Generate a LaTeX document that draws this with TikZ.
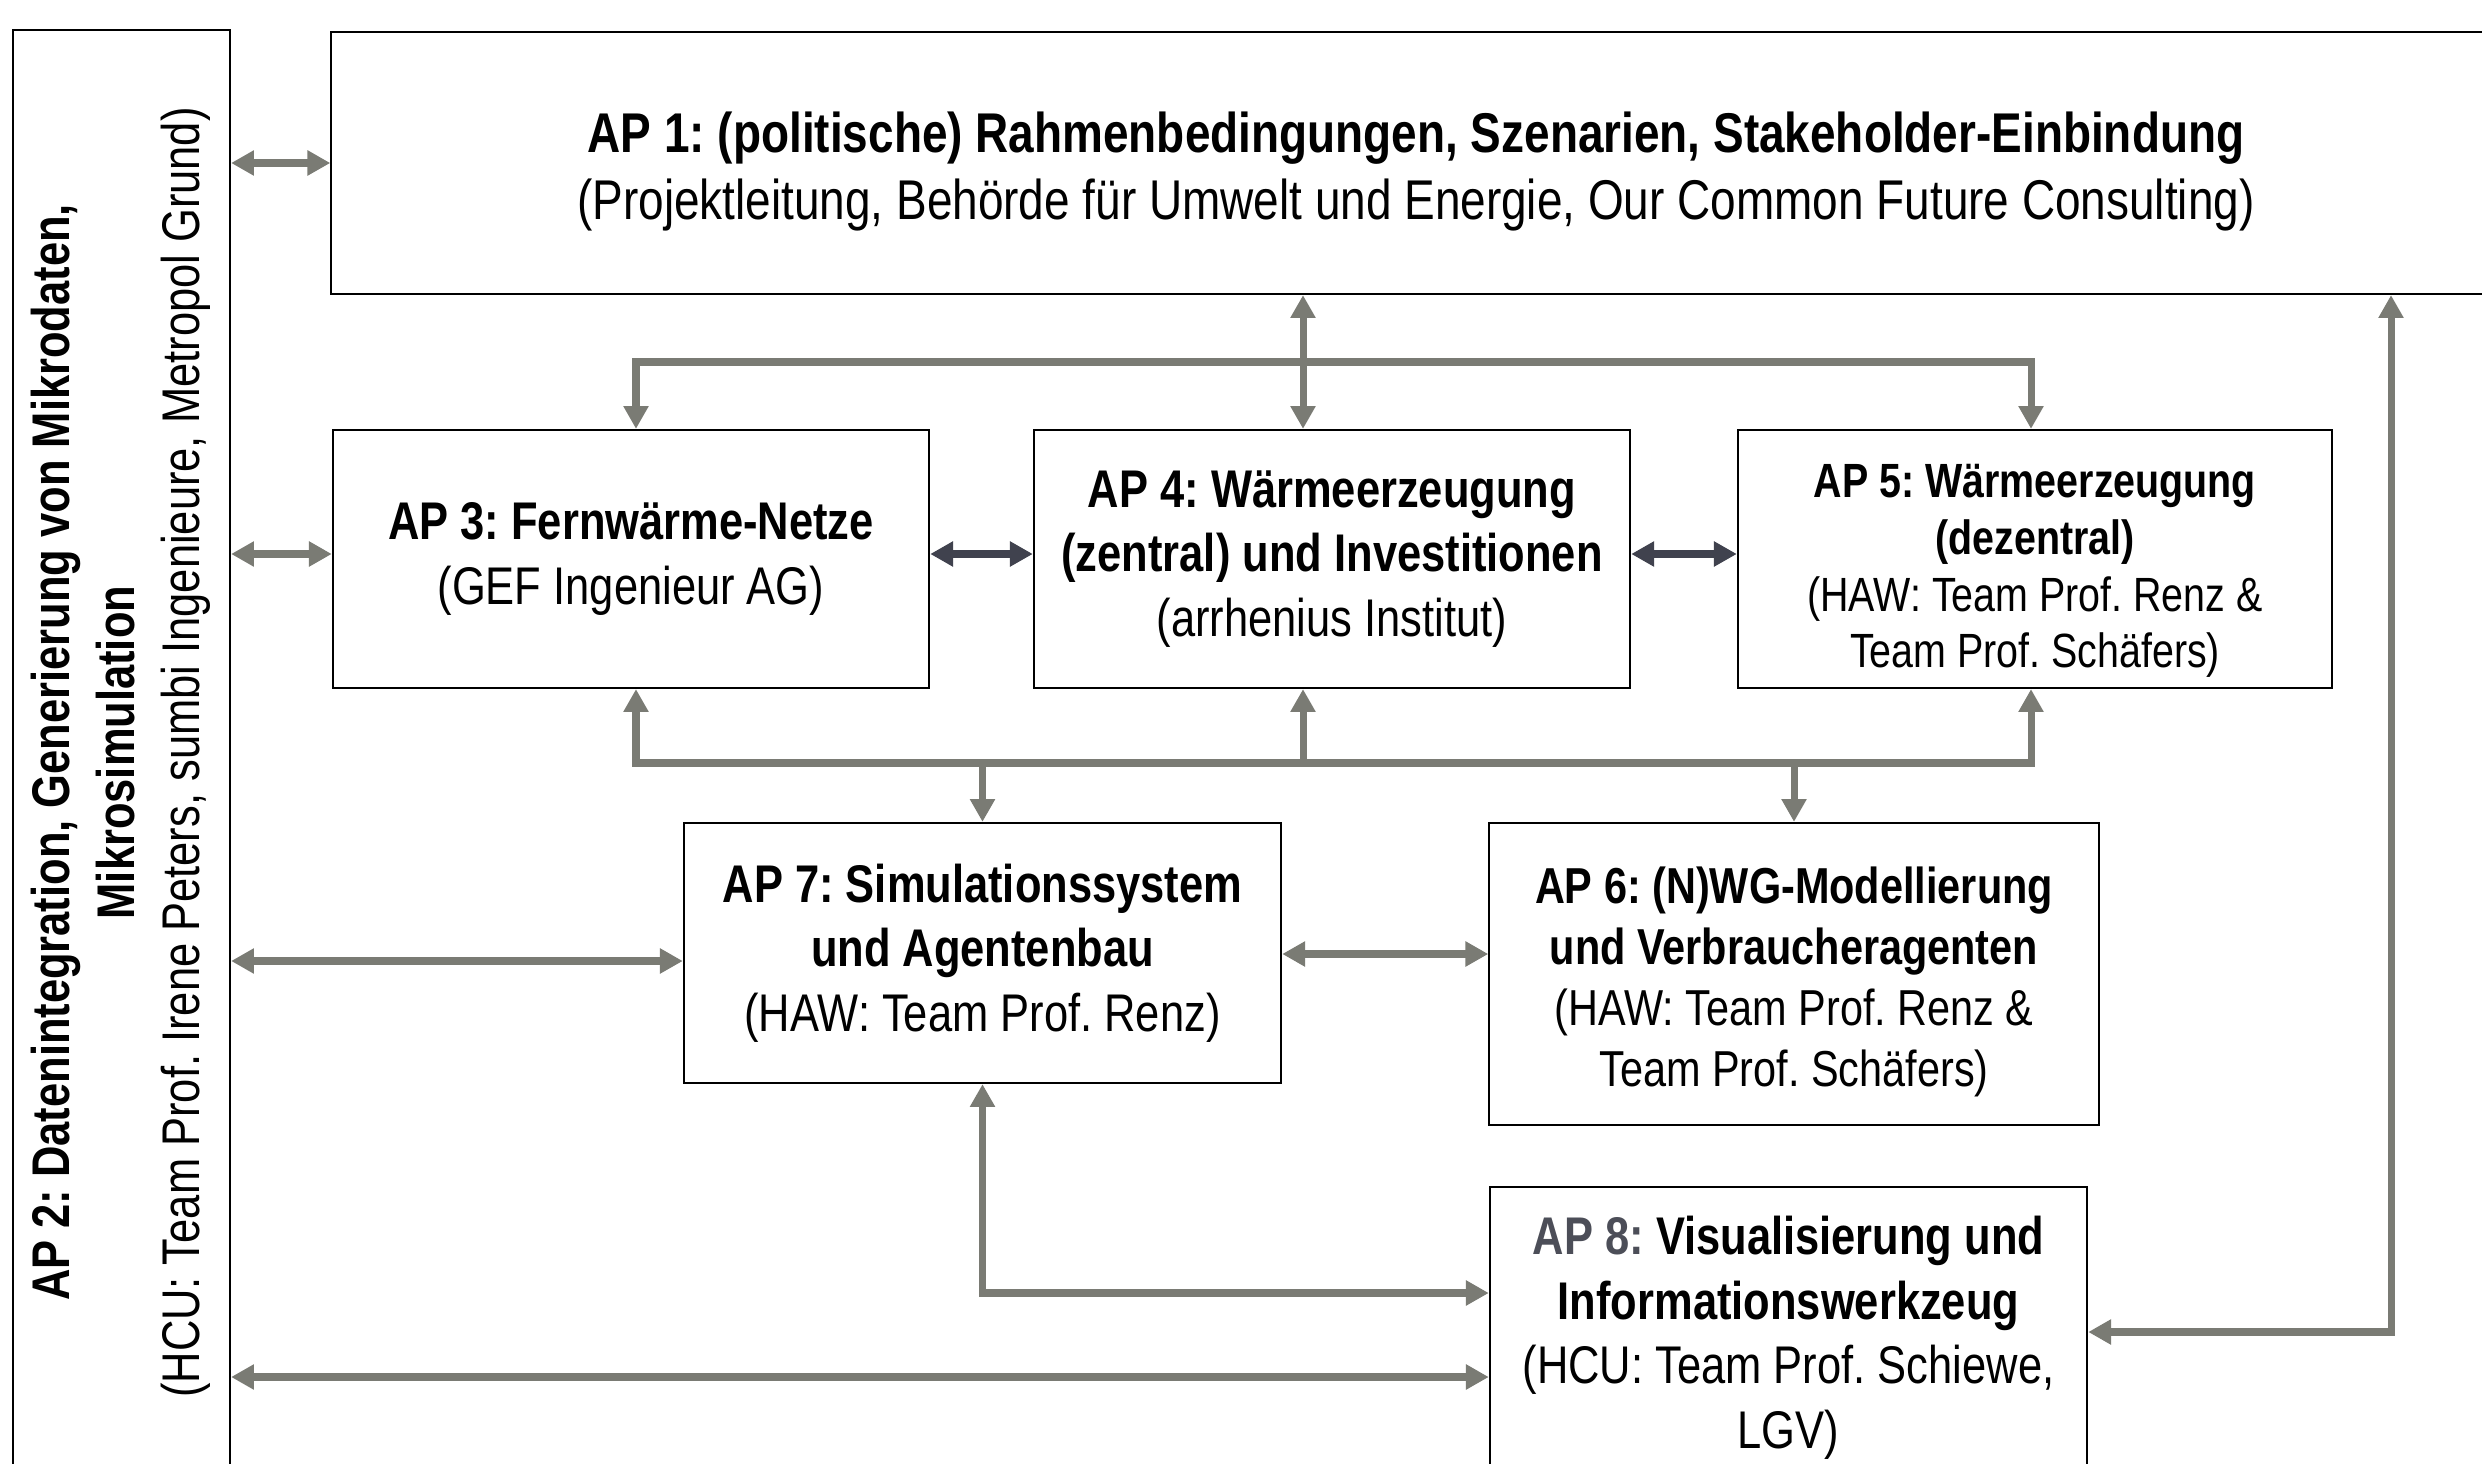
\documentclass[tikz,border=0pt]{standalone}
\usepackage{graphicx}
\usepackage{fontspec}
\setmainfont{Liberation Sans}[FakeStretch=0.82]
\usetikzlibrary{arrows.meta,calc}
\definecolor{gline}{RGB}{122,123,116}
\definecolor{dline}{RGB}{64,66,78}
\definecolor{apgray}{RGB}{76,78,88}
\begin{document}
\frenchspacing
\begin{tikzpicture}[x=0.01cm,y=-0.01cm,
  >={Triangle[length=6.5pt,width=6.8pt]},
  apbox/.style={draw=black,line width=0.6pt,fill=white,align=center,inner sep=0pt},
  fbig/.style={font=\fontsize{15.93}{19.1}\selectfont},
  fmid/.style={font=\fontsize{15.08}{18.4}\selectfont},
  fsix/.style={font=\fontsize{14.37}{17.35}\selectfont},
  ffive/.style={font=\fontsize{13.66}{16.2}\selectfont},
  garrow/.style={draw=gline,line width=2pt},
  darrow/.style={draw=dline,line width=2.3pt}]
\useasboundingbox (0,0) rectangle (2482,1464);
\clip (0,0) rectangle (2482,1464);
\fill[white] (0,0) rectangle (2482,1464);

% boxes
\node[apbox,fbig,minimum width=21.68cm,minimum height=2.62cm] (ap1) at (1416,163)
  {\rule{0pt}{16.2pt}{\bfseries AP 1: (politische) Rahmenbedingungen, Szenarien, Stakeholder-Einbindung}\\
   (Projektleitung, Behörde für Umwelt und Energie, Our Common Future Consulting)};
\node[apbox,minimum width=2.17cm,minimum height=14.45cm] (ap2) at (121.5,752.5)
  {\rotatebox{90}{\fontsize{15.08}{18.5}\selectfont\begin{tabular}{@{}c@{}}
   \bfseries AP 2: Datenintegration, Generierung von Mikrodaten,\\
   \bfseries Mikrosimulation\\
   (HCU: Team Prof. Irene Peters, sumbi Ingenieure, Metropol Grund)
   \end{tabular}}};
\node[apbox,fmid,minimum width=5.96cm,minimum height=2.58cm] (ap3) at (631,559)
  {{\bfseries AP 3: Fernwärme-Netze}\\(GEF Ingenieur AG)};
\node[apbox,fmid,minimum width=5.96cm,minimum height=2.58cm] (ap4) at (1332,559)
  {{\bfseries AP 4: Wärmeerzeugung}\\{\bfseries (zentral) und Investitionen}\\(arrhenius Institut)};
\node[apbox,ffive,minimum width=5.94cm,minimum height=2.58cm] (ap5) at (2035,559)
  {\rule{0pt}{16.2pt}{\bfseries AP 5: Wärmeerzeugung}\\{\bfseries (dezentral)}\\(HAW: Team Prof. Renz \&\\Team Prof. Schäfers)};
\node[apbox,fmid,minimum width=5.97cm,minimum height=2.60cm] (ap7) at (982.5,953)
  {{\bfseries AP 7: Simulationssystem}\\{\bfseries und Agentenbau}\\(HAW: Team Prof. Renz)};
\node[apbox,fsix,minimum width=6.09cm,minimum height=3.02cm] (ap6) at (1794,974)
  {\rule{0pt}{15.1pt}{\bfseries AP 6: (N)WG-Modellierung}\\{\bfseries und Verbraucheragenten}\\(HAW: Team Prof. Renz \&\\Team Prof. Schäfers)};
\node[apbox,fmid,minimum width=5.97cm,minimum height=2.93cm] (ap8) at (1788.5,1333.5)
  {\rule{0pt}{13.3pt}{\bfseries{\color{apgray}AP 8:} Visualisierung und}\\{\bfseries Informationswerkzeug}\\(HCU: Team Prof. Schiewe,\\LGV)};

% helper coordinates
\coordinate (x4) at (1303,0);
\coordinate (y3) at (0,554);
\coordinate (tl) at (636,362);
\coordinate (tr) at (2031,362);
\coordinate (bl) at (636,763);
\coordinate (br) at (2031,763);
\coordinate (y7) at (0,961);
\coordinate (y76) at (0,954);
\coordinate (y78) at (0,1293);
\coordinate (y28) at (0,1377);
\coordinate (rr) at (2391,1332);

% connectors
\draw[garrow,<->] (ap2.east |- ap1.west) -- (ap1.west);
\draw[garrow,<->] (ap2.east |- y3) -- (ap3.west |- y3);
\draw[darrow,<->] (ap3.east |- y3) -- (ap4.west |- y3);
\draw[darrow,<->] (ap4.east |- y3) -- (ap5.west |- y3);
\draw[garrow,<->] (ap1.south -| x4) -- (ap4.north -| x4);
\draw[garrow,<->] (ap3.north -| tl) -- (tl) -- (tr) -- (ap5.north -| tr);
\draw[garrow,<->] (ap3.south -| bl) -- (bl) -- (br) -- (ap5.south -| br);
\draw[garrow,->] (bl -| x4) -- (ap4.south -| x4);
\draw[garrow,->] (bl -| ap7.north) -- (ap7.north);
\draw[garrow,->] (bl -| ap6.north) -- (ap6.north);
\draw[garrow,<->] (ap2.east |- y7) -- (ap7.west |- y7);
\draw[garrow,<->] (ap7.east |- y76) -- (ap6.west |- y76);
\draw[garrow,<->] (ap7.south) -- (ap7.south |- y78) -- (ap8.west |- y78);
\draw[garrow,<->] (ap2.east |- y28) -- (ap8.west |- y28);
\draw[garrow,<->] (ap8.east |- rr) -- (rr) -- (ap1.south -| rr);
\end{tikzpicture}
\end{document}
